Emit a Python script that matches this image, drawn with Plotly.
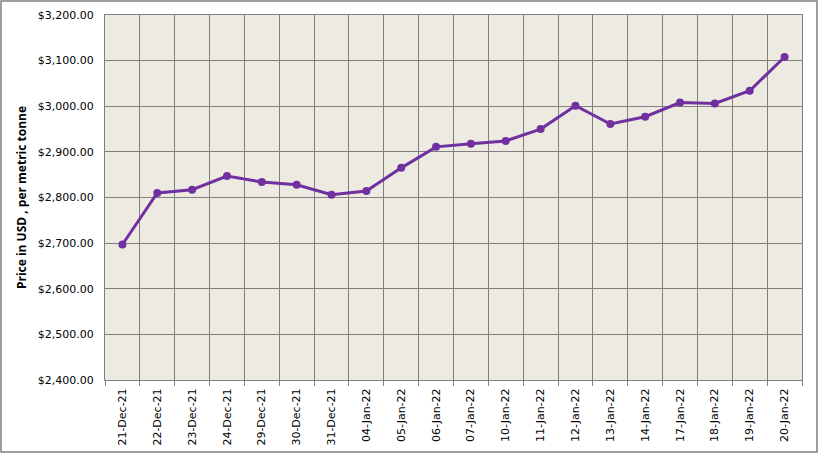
import plotly.graph_objects as go

dates = ["21-Dec-21", "22-Dec-21", "23-Dec-21", "24-Dec-21", "29-Dec-21", "30-Dec-21",
         "31-Dec-21", "04-Jan-22", "05-Jan-22", "06-Jan-22", "07-Jan-22", "10-Jan-22",
         "11-Jan-22", "12-Jan-22", "13-Jan-22", "14-Jan-22", "17-Jan-22", "18-Jan-22",
         "19-Jan-22", "20-Jan-22"]
prices = [2697, 2810, 2817, 2847, 2834, 2828, 2806, 2814, 2865, 2911, 2918, 2924,
          2950, 3001, 2961, 2977, 3008, 3006, 3034, 3108]

W, H = 818, 453
ml, mr, mt, mb = 105, 16, 15, 73
pw, ph = W - ml - mr, H - mt - mb

fig = go.Figure()
fig.add_trace(go.Scatter(
    x=dates, y=prices, mode="lines+markers",
    line=dict(color="#7030A0", width=3),
    marker=dict(color="#7030A0", size=8),
    showlegend=False,
))

fig.update_layout(
    width=W, height=H,
    margin=dict(l=ml, r=mr, t=mt, b=mb),
    paper_bgcolor="white",
    plot_bgcolor="#EDEAE1",
    font=dict(family="DejaVu Sans", size=11, color="#000000"),
    xaxis=dict(
        type="category", tickson="boundaries", tickangle=-90,
        automargin=False,
        showgrid=True, gridcolor="#808080", gridwidth=1,
        showline=True, linecolor="#808080", mirror=True,
        ticks="outside", ticklen=5, tickcolor="#808080",
        ticklabelstandoff=3,
        tickfont=dict(family="DejaVu Sans", size=11),
        range=[-0.5, len(dates) - 0.5],
    ),
    yaxis=dict(
        range=[2400, 3200], dtick=100, tick0=2400,
        automargin=False,
        tickprefix="$", tickformat=",.2f",
        showgrid=True, gridcolor="#808080", gridwidth=1,
        showline=True, linecolor="#808080", mirror=True,
        ticks="", zeroline=False,
        ticklabelstandoff=8,
        tickfont=dict(family="DejaVu Sans", size=11),
        title=dict(text="Price in USD , per metric tonne",
                   font=dict(family="Open Sans", size=12, color="#000000", weight="bold"),
                   standoff=8),
    ),
    shapes=[dict(
        type="rect", xref="paper", yref="paper",
        x0=(-ml + 1) / pw, x1=1 + (mr - 1) / pw,
        y0=(-mb + 1) / ph, y1=1 + (mt - 1) / ph,
        line=dict(color="#808080", width=1.5), fillcolor="rgba(0,0,0,0)",
        layer="below",
    )],
)

fig.write_html("out.html")
